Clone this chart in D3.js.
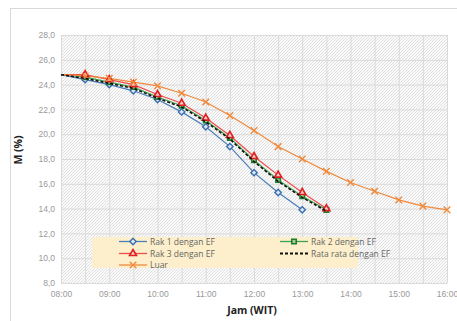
<html>
<head>
<script src="https://d3js.org/d3.v7.min.js"></script>
<style>
  body { margin: 0; background: #fff; }
  svg { font-family: "Open Sans", "Liberation Sans", sans-serif; }
  .tick text { fill: #999; font-size: 8.5px; }
  .axis path, .axis line { display: none; }
  .leg { font-size: 8.5px; fill: #666; }
</style>
</head>
<body>
<div id="chart"></div>
<script>
// time slots, every half hour
var times = ["08:00","08:30","09:00","09:30","10:00","10:30","11:00","11:30","12:00",
             "12:30","13:00","13:30","14:00","14:30","15:00","15:30","16:00"];
var xTicks = ["08:00","09:00","10:00","11:00","12:00","13:00","14:00","15:00","16:00"];
var yTicks = [8, 10, 12, 14, 16, 18, 20, 22, 24, 26, 28];

var rak1 = [24.8, 24.4, 24.0, 23.5, 22.8, 21.8, 20.6, 19.0, 16.9, 15.3, 13.9];
var rak2 = [24.8, 24.6, 24.2, 23.8, 23.0, 22.3, 21.1, 19.7, 17.9, 16.3, 15.0, 13.9];
var rak3 = [24.8, 24.8, 24.4, 24.0, 23.2, 22.5, 21.3, 19.9, 18.2, 16.7, 15.3, 14.0];
var rata = [24.8, 24.5, 24.1, 23.7, 22.9, 22.2, 21.0, 19.6, 17.8, 16.2, 14.9, 13.8];
var luar = [24.8, 24.7, 24.5, 24.2, 23.9, 23.3, 22.6, 21.5, 20.3, 19.0, 18.0, 17.0,
            16.1, 15.4, 14.7, 14.2, 13.9];

var W = 457, H = 321;
var pLeft = 61, pRight = 447, pTop = 35, pBottom = 283;

function hrs(s) { var p = s.split(":"); return +p[0] + (+p[1]) / 60; }

var x = d3.scaleLinear().domain([8, 16]).range([pLeft, pRight]);
var y = d3.scaleLinear().domain([8, 28]).range([pBottom, pTop]);

var svg = d3.select("#chart").append("svg")
  .attr("width", W).attr("height", H);

// outer chart border
svg.append("rect")
  .attr("x", 10.5).attr("y", 8.5).attr("width", 460).attr("height", 330)
  .attr("fill", "#fff").attr("stroke", "#d9d9d9");

// hatched plot background
var defs = svg.append("defs");
var pat = defs.append("pattern").attr("id", "hatch")
  .attr("patternUnits", "userSpaceOnUse").attr("width", 3).attr("height", 3);
pat.append("rect").attr("width", 3).attr("height", 3).attr("fill", "#fafafa");
pat.append("path").attr("d", "M0,3 L3,0").attr("stroke", "#d6d6d6").attr("stroke-width", 0.7);

svg.append("rect")
  .attr("x", pLeft).attr("y", pTop)
  .attr("width", pRight - pLeft).attr("height", pBottom - pTop)
  .attr("fill", "url(#hatch)");

// grid
var grid = svg.append("g");
grid.selectAll(".vg").data(times).enter().append("line")
  .attr("x1", d => x(hrs(d)) + 0.5).attr("x2", d => x(hrs(d)) + 0.5)
  .attr("y1", pTop).attr("y2", pBottom)
  .attr("stroke", "#dadada").attr("stroke-width", 1);
grid.selectAll(".hg").data(yTicks).enter().append("line")
  .attr("x1", pLeft).attr("x2", pRight)
  .attr("y1", d => y(d) + 0.5).attr("y2", d => y(d) + 0.5)
  .attr("stroke", "#dadada").attr("stroke-width", 1);

// axes
var fmt = d3.format(".1f");
svg.append("g").attr("class", "axis")
  .attr("transform", "translate(" + (pLeft - 4) + ",0)")
  .call(d3.axisLeft(y).tickValues(yTicks).tickSize(0).tickPadding(2)
    .tickFormat(d => fmt(d).replace(".", ",")));

svg.append("g").attr("class", "axis")
  .attr("transform", "translate(0," + (pBottom + 4) + ")")
  .call(d3.axisBottom(x).tickValues(xTicks.map(hrs)).tickSize(0).tickPadding(4)
    .tickFormat((d, i) => xTicks[i]));

svg.append("text")
  .attr("x", 252).attr("y", 314).attr("text-anchor", "middle")
  .style("font-size", "10.5px").style("font-weight", "bold").attr("fill", "#222")
  .text("Jam (WIT)");
svg.append("text")
  .attr("transform", "translate(22,150) rotate(-90)").attr("text-anchor", "middle")
  .style("font-size", "10.5px").style("font-weight", "bold").attr("fill", "#222")
  .text("M (%)");

// series
var series = [
  {name: "Rak 1 dengan EF", vals: rak1, color: "#4a7ebb", mark: "diamond"},
  {name: "Rak 2 dengan EF", vals: rak2, color: "#3fa34d", mark: "square"},
  {name: "Rak 3 dengan EF", vals: rak3, color: "#ee4b4b", mark: "triangle"},
  {name: "Rata rata dengan EF", vals: rata, color: "#111", mark: "none", dash: "3,2"},
  {name: "Luar", vals: luar, color: "#f08a3c", mark: "cross"}
];

var line = d3.line().x((d, i) => x(hrs(times[i]))).y(d => y(d));

var symMap = {
  diamond: d3.symbol().type(d3.symbolDiamond2 || d3.symbolDiamond).size(26),
  square: d3.symbol().type(d3.symbolSquare).size(20),
  triangle: d3.symbol().type(d3.symbolTriangle).size(21),
  cross: d3.symbol().type(d3.symbolX).size(30)
};

function drawMarker(g, mark, color, cx, cy) {
  var p = g.append("path").attr("d", symMap[mark]())
    .attr("transform", "translate(" + cx + "," + cy + ")");
  if (mark == "diamond") p.attr("fill", "#dce6f2").attr("stroke", "#3a6fb0").attr("stroke-width", 1.4);
  else if (mark == "square") p.attr("fill", "#a7d08c").attr("stroke", "#1e7b32").attr("stroke-width", 1.6);
  else if (mark == "triangle") p.attr("fill", "#f7c8c8").attr("stroke", "#e01e1e").attr("stroke-width", 1.6);
  else p.attr("fill", "none").attr("stroke", color).attr("stroke-width", 1.4);
}

var lines = svg.append("g");
series.forEach(function(s) {
  if (s.dash) return;
  lines.append("path").attr("d", line(s.vals))
    .attr("fill", "none").attr("stroke", s.color)
    .attr("stroke-width", 1.2);
});
// markers (skipping 08:00)
series.forEach(function(s) {
  if (s.mark == "none") return;
  var g = svg.append("g");
  s.vals.forEach(function(v, i) {
    if (i == 0) return;
    drawMarker(g, s.mark, s.color, x(hrs(times[i])), y(v));
  });
});
// dashed average line on top
svg.append("path").attr("d", line(rata))
  .attr("fill", "none").attr("stroke", "#111")
  .attr("stroke-width", 1.6).attr("stroke-dasharray", "3,2");

// legend
svg.append("rect")
  .attr("x", 92).attr("y", 237).attr("width", 266).attr("height", 31)
  .attr("fill", "#fdefcb");
var legPos = [[119, 241.5], [280, 241.5], [119, 253.5], [280, 253.5], [119, 265]];
series.forEach(function(s, i) {
  var lx = legPos[i][0], ly = legPos[i][1];
  var g = svg.append("g");
  g.append("line").attr("x1", lx).attr("x2", lx + 28).attr("y1", ly).attr("y2", ly)
    .attr("stroke", s.color).attr("stroke-width", s.dash ? 1.8 : 1.3)
    .attr("stroke-dasharray", s.dash || null);
  if (s.mark != "none") drawMarker(g, s.mark, s.color, lx + 14, ly);
  g.append("text").attr("class", "leg").attr("x", lx + 31).attr("y", ly + 3)
    .text(s.name);
});
</script>
</body>
</html>
